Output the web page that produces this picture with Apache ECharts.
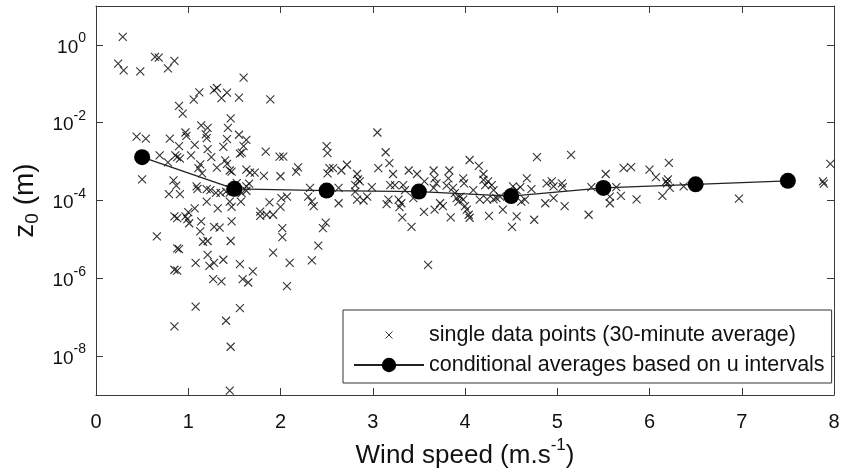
<!DOCTYPE html>
<html>
<head>
<meta charset="utf-8">
<script src="https://cdn.jsdelivr.net/npm/echarts@6/dist/echarts.min.js"></script>
<style>
html,body{margin:0;padding:0;background:#fff;}
#chart{width:842px;height:468px;}
</style>
</head>
<body>
<div id="chart"></div>
<script>
// Single 30-minute points: [wind speed (m/s), z0 (m)]
const singlePoints = [
 [0.29,1.6],[0.24,0.33],[0.30,0.22],[0.48,0.21],[0.64,0.49],[0.68,0.47],[0.78,0.25],[0.85,0.39],
 [1.60,0.145],[1.89,0.040],[1.12,0.060],[1.06,0.039],[1.28,0.069],[1.31,0.078],[1.36,0.043],[1.42,0.059],
 [1.55,0.044],[0.90,0.027],[0.94,0.017],[1.46,0.0129],[1.14,0.0085],[1.21,0.0074],[1.43,0.0074],
 [0.44,0.0044],[0.54,0.0039],[0.80,0.0039],[0.97,0.0056],[0.98,0.0046],[1.19,0.0050],[1.20,0.0040],
 [1.42,0.0038],[1.55,0.0049],[1.63,0.0036],[1.60,0.0025],[0.90,0.0025],[1.07,0.0027],[1.21,0.0021],
 [1.38,0.0024],[1.56,0.0016],[1.58,0.0017],[1.84,0.0018],[0.69,0.00145],[0.86,0.00145],[0.88,0.0013],
 [0.91,0.0012],[1.03,0.00145],[1.25,0.0013],[1.40,0.00107],[1.42,0.00087],[1.99,0.00135],[2.03,0.00135],
 [0.78,0.00096],[1.13,0.00085],[1.11,0.00068],[1.15,0.0005],[1.31,0.0007],[1.45,0.00059],[1.47,0.00055],
 [1.63,0.00062],[1.67,0.00052],[1.72,0.00052],[1.82,0.00043],[2.00,0.00042],[0.50,0.00035],[0.84,0.00033],
 [0.87,0.00024],[1.09,0.00023],[1.10,0.0002],[0.79,0.000145],[0.91,0.000145],[1.20,0.000195],[1.24,0.000186],
 [1.30,0.000158],[1.35,0.000158],[1.41,0.00017],[1.58,0.000155],[1.63,0.000178],[1.66,0.00027],[1.63,0.00023],
 [1.525,0.00028],[1.45,0.000195],[1.45,0.00016],
 [1.45,9.3e-5],[1.57,9.3e-5],[1.47,6.9e-5],[1.20,9.3e-5],[1.07,6.3e-5],[1.32,6.3e-5],[1.00,5.0e-5],
 [0.85,3.9e-5],[0.88,3.5e-5],[0.97,3.9e-5],[0.99,3.3e-5],[1.01,2.6e-5],[1.14,2.9e-5],[1.47,2.9e-5],
 [1.78,5.2e-5],[1.78,4.0e-5],[1.88,8.9e-5],[1.85,4.3e-5],[1.92,4.3e-5],[2.00,6.9e-5],[2.01,1.15e-4],
 [2.07,1.26e-4],[0.66,1.2e-5],[1.13,1.6e-5],[1.28,2.1e-5],[1.34,2.0e-5],[1.16,8.7e-6],[1.21,9.1e-6],
 [1.46,9.1e-6],[2.02,1.95e-5],[2.02,1.15e-5],[0.88,5.9e-6],[0.90,5.6e-6],[1.08,2.5e-6],[1.21,4.0e-6],
 [1.23,2.1e-6],[1.28,2.5e-6],[1.38,3.0e-6],[1.56,2.3e-6],[1.70,1.5e-6],[1.92,4.6e-6],[2.10,2.5e-6],
 [0.85,1.66e-6],[0.88,1.58e-6],[1.27,9.5e-7],[1.36,8.3e-7],[1.59,9.5e-7],[1.65,7.8e-7],[2.07,6.3e-7],
 [1.08,1.86e-7],[1.56,1.7e-7],[1.41,8.1e-8],[0.85,5.8e-8],[1.46,1.74e-8],[1.45,1.3e-9],
 [3.05,5.6e-3],[3.14,1.74e-3],[3.18,9.1e-4],[3.06,6.8e-4],[3.22,4.8e-4],[3.39,5.9e-4],[3.48,4.8e-4],
 [2.50,2.5e-3],[2.51,1.66e-3],[2.53,6.8e-4],[2.57,6.8e-4],[2.66,5.9e-4],[2.72,8.3e-4],[2.51,5.0e-4],
 [2.17,5.5e-4],[2.19,7.1e-4],[2.83,4.8e-4],[2.84,3.5e-4],[2.86,3.1e-4],[2.81,2.5e-4],[2.99,2.2e-4],
 [2.32,2.1e-4],[2.63,2.1e-4],[2.81,1.7e-4],[2.83,1.05e-4],[2.90,1.0e-4],[2.94,1.26e-4],[2.30,1.26e-4],
 [2.34,9.3e-5],[2.36,7.2e-5],[2.63,8.5e-5],[3.19,2.5e-4],[3.24,2.5e-4],[3.33,2.5e-4],[3.35,1.86e-4],
 [3.17,1.05e-4],[3.15,8.1e-5],[3.28,1.05e-4],[3.29,6.8e-5],[3.31,8.5e-5],[3.32,3.7e-5],[3.42,2.1e-5],
 [3.44,1.15e-4],[3.56,3.1e-4],[3.555,5.1e-5],[3.66,5.9e-4],[3.67,3.7e-4],[3.69,2.75e-4],[3.66,2.1e-4],
 [3.67,5.8e-5],[3.73,8.5e-5],[3.76,7.2e-5],[3.83,5.9e-4],[3.82,3.7e-4],[3.80,2.4e-4],[3.845,3.7e-5],
 [3.87,2.1e-4],[3.89,1.55e-4],[3.91,1.15e-4],[3.93,9.3e-5],[3.95,1.26e-4],[3.98,1.05e-4],[3.98,3.7e-4],
 [3.99,2.75e-4],[4.00,7.2e-5],[4.02,5.8e-5],[4.04,4.3e-5],[4.05,3.6e-5],[4.05,1.1e-3],[4.09,1.86e-4],
 [4.15,7.8e-4],[4.20,4.8e-4],[4.20,3.4e-4],[4.22,2.5e-4],[4.16,1.05e-4],[4.24,1.07e-4],[4.31,1.07e-4],
 [4.34,1.15e-4],[4.38,1.26e-4],[4.26,4.0e-5],[4.25,3.1e-4],[4.29,2.5e-4],[4.31,1.86e-4],[4.41,5.8e-5],
 [4.51,2.1e-5],[4.56,3.9e-5],[4.52,2.3e-4],[4.56,1.86e-4],[4.60,2.2e-4],[4.61,9.3e-5],[4.65,1.05e-4],
 [4.67,3.7e-4],[4.72,1.95e-4],[4.75,3.2e-5],[4.78,1.3e-3],[4.885,2.75e-4],[4.94,3.1e-4],[4.96,2.3e-4],
 [4.87,8.5e-5],[4.96,1.15e-4],[3.60,2.2e-6],[2.41,6.9e-6],[2.46,1.95e-5],[2.49,2.7e-5],[2.34,2.9e-6],
 [5.15,1.48e-3],[5.05,2.75e-4],[5.06,2.2e-4],[5.08,7.2e-5],[5.34,4.3e-5],[5.37,2.2e-4],[5.525,4.8e-4],
 [5.57,1.26e-4],[5.57,8.5e-5],[5.64,2.2e-4],[5.69,1.32e-4],[5.72,6.8e-4],[5.80,7.2e-4],[5.86,1.07e-4],
 [6.00,6.2e-4],[6.07,4.0e-4],[6.14,1.32e-4],[6.18,3.1e-4],[6.20,3.5e-4],[6.22,2.1e-4],[6.19,2.75e-4],
 [6.21,9.3e-4],[6.37,2.3e-4],[6.97,1.12e-4],[7.88,3.1e-4],[7.89,2.7e-4],[7.96,8.7e-4]
];

// Conditional averages per 1 m/s wind-speed interval
const binCenters = [0.5, 1.5, 2.5, 3.5, 4.5, 5.5, 6.5, 7.5];
const binMeans   = [1.3e-3, 2.0e-4, 1.8e-4, 1.7e-4, 1.3e-4, 2.1e-4, 2.6e-4, 3.2e-4];

// Axis ticks
const xTicks = [0, 1, 2, 3, 4, 5, 6, 7, 8];
const yTicks = [1e-8, 1e-6, 1e-4, 1e-2, 1];

const seriesNames = ['single data points (30-minute average)', 'conditional averages based on u intervals'];

const FONT = 'Liberation Sans, Arial, Helvetica, sans-serif';
const AXIS_COLOR = '#3a3a3a';

const chart = echarts.init(document.getElementById('chart'), null, {renderer: 'canvas'});

const yLabelFmt = function (v) {
  return '{b|10}{s|' + Math.round(Math.log10(v)) + '}';
};

const xAxisBase = {
  type: 'value', min: xTicks[0], max: xTicks[xTicks.length - 1], interval: 1,
  axisLine: {show: true, onZero: false, lineStyle: {color: AXIS_COLOR, width: 1}},
  axisTick: {show: true, inside: true, length: 7, lineStyle: {color: AXIS_COLOR, width: 1}},
  splitLine: {show: false}
};
const yAxisBase = {
  type: 'log', logBase: 10, min: 1e-9, max: 10,
  axisLine: {show: true, onZero: false, lineStyle: {color: AXIS_COLOR, width: 1}},
  axisTick: {show: true, inside: true, length: 7, customValues: yTicks, lineStyle: {color: AXIS_COLOR, width: 1}},
  splitLine: {show: false},
  minorTick: {show: false}, minorSplitLine: {show: false}
};

const option = {
  backgroundColor: '#ffffff',
  animation: false,
  grid: {left: 96, right: 8, top: 6, bottom: 73, outerBoundsMode: 'none', containLabel: false},
  xAxis: [
    Object.assign({}, xAxisBase, {
      position: 'bottom',
      name: 'Wind speed (m.s{s|-1})',
      nameLocation: 'middle',
      nameGap: 42,
      nameMoveOverlap: false,
      nameTextStyle: {fontFamily: FONT, fontSize: 26, color: '#111', lineHeight: 38,
        rich: {s: {fontFamily: FONT, fontSize: 17, lineHeight: 17, verticalAlign: 'top', color: '#111'}}},
      axisLabel: {show: true, margin: 17, fontFamily: FONT, fontSize: 20, color: '#111'}
    }),
    Object.assign({}, xAxisBase, {position: 'top', axisLabel: {show: false}})
  ],
  yAxis: [
    Object.assign({}, yAxisBase, {
      position: 'left',
      name: 'z{sub|0} (m)',
      nameLocation: 'middle',
      nameGap: 54,
      nameMoveOverlap: false,
      nameTextStyle: {fontFamily: FONT, fontSize: 28, color: '#111', lineHeight: 34,
        rich: {sub: {fontFamily: FONT, fontSize: 19, lineHeight: 19, verticalAlign: 'bottom', color: '#111'}}},
      axisLabel: {
        show: true, margin: 10, customValues: yTicks, formatter: yLabelFmt,
        padding: [5, 0, 0, 0],
        rich: {
          b: {fontFamily: FONT, fontSize: 19, lineHeight: 32, color: '#111'},
          s: {fontFamily: FONT, fontSize: 14, lineHeight: 14, verticalAlign: 'top', color: '#111'}
        }
      }
    }),
    Object.assign({}, yAxisBase, {position: 'right', axisLabel: {show: false}})
  ],
  legend: {
    orient: 'vertical', left: 343, top: 310,
    padding: [14, 7, 7, 10], itemGap: 8, itemWidth: 70, itemHeight: 18,
    borderColor: '#333', borderWidth: 1, backgroundColor: '#ffffff',
    selectedMode: false,
    textStyle: {fontFamily: FONT, fontSize: 21.5, color: '#111', lineHeight: 18},
    data: [
      {name: seriesNames[0], icon: 'path://M0,0M18,18M5.5,5.5L12.5,12.5M12.5,5.5L5.5,12.5',
       itemStyle: {color: 'transparent', borderColor: '#000', borderWidth: 1}},
      {name: seriesNames[1]}
    ]
  },
  series: [
    {
      name: seriesNames[0],
      type: 'scatter',
      xAxisIndex: 0, yAxisIndex: 0,
      symbol: 'path://M0,0L10,10M10,0L0,10',
      symbolSize: 8,
      itemStyle: {color: 'transparent', borderColor: '#000', borderWidth: 1.1},
      emphasis: {disabled: true},
      z: 2,
      data: singlePoints
    },
    {
      name: seriesNames[1],
      type: 'line',
      xAxisIndex: 0, yAxisIndex: 0,
      symbol: 'circle',
      symbolSize: 16,
      showAllSymbol: true,
      itemStyle: {color: '#000'},
      lineStyle: {color: '#222', width: 1.3},
      emphasis: {disabled: true},
      z: 3,
      data: binCenters.map(function (x, i) { return [x, binMeans[i]]; })
    }
  ]
};

chart.setOption(option);
</script>
</body>
</html>
